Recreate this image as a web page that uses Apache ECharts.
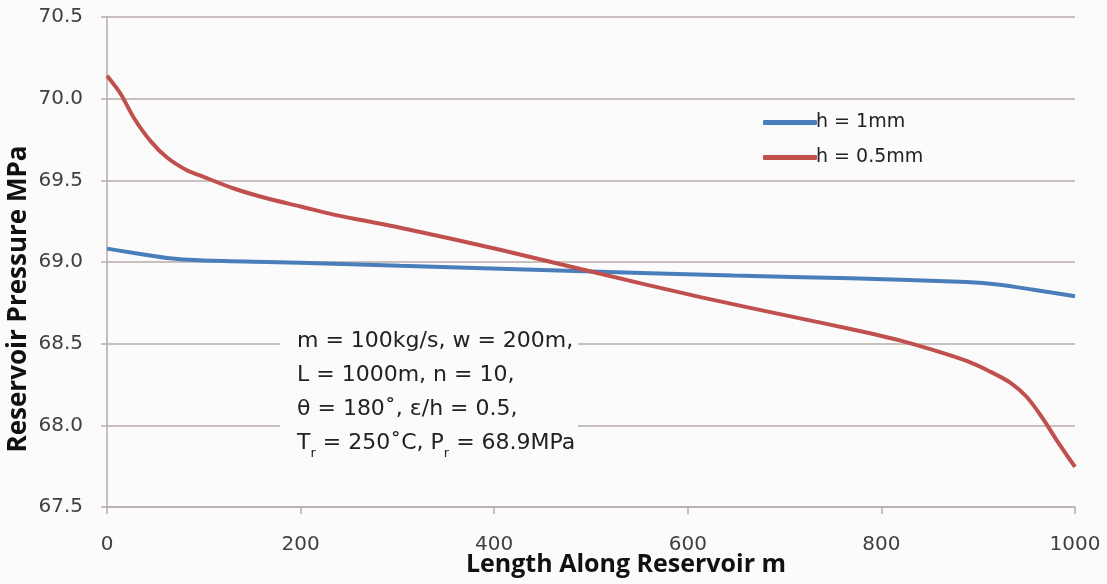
<!DOCTYPE html>
<html>
<head>
<meta charset="utf-8">
<script src="https://cdn.jsdelivr.net/npm/echarts@6/dist/echarts.min.js"></script>
<style>
  html, body { margin: 0; padding: 0; background: #fbfbfb; }
  #chart { width: 1107px; height: 584px; }
</style>
</head>
<body>
<div id="chart"></div>
<script>
// Reservoir pressure along the reservoir length for two fracture apertures
const seriesNames = ['h = 1mm', 'h = 0.5mm'];

const lengthH1 = [0, 28, 62, 96, 165, 234, 303, 475, 647, 768, 888, 922, 957, 1000];
const pressureH1 = [69.082, 69.055, 69.025, 69.01, 69.0, 68.99, 68.977, 68.947, 68.917, 68.9, 68.877, 68.861, 68.83, 68.79];

const lengthH05 = [0, 14, 28, 45, 62, 83, 96, 131, 165, 200, 234, 269, 303, 406, 501, 613, 716, 768, 795, 819, 854, 888, 912, 933, 950, 967, 981, 1000];
const pressureH05 = [70.14, 70.03, 69.88, 69.74, 69.64, 69.56, 69.53, 69.45, 69.39, 69.34, 69.29, 69.25, 69.21, 69.075, 68.94, 68.785, 68.655, 68.59, 68.555, 68.52, 68.46, 68.394, 68.33, 68.262, 68.175, 68.04, 67.91, 67.745];

const xTicks = [0, 200, 400, 600, 800, 1000];
const yTicks = [67.5, 68.0, 68.5, 69.0, 69.5, 70.0, 70.5];

const annotationLines = [
  '{t|m = 100kg/s, w = 200m,}',
  '{t|L = 1000m, n = 10,}',
  '{t|θ = 180˚, ε/h = 0.5,}',
  '{t|T}{s|r}{t| = 250˚C, P}{s|r}{t| = 68.9MPa}'
];

const pair = (xs, ys) => xs.map((x, i) => [x, ys[i]]);

const bg = '#fbfbfb';
const gridColor = '#b8adaa';
const labelColor = '#404040';
const tickFont = '"DejaVu Sans", sans-serif';
const titleFont = '"Open Sans", sans-serif';

const chart = echarts.init(document.getElementById('chart'), null, { renderer: 'canvas' });

chart.setOption({
  backgroundColor: bg,
  animation: false,
  grid: {
    left: 107, right: 32, top: 17, bottom: 77,
    containLabel: false,
    outerBoundsMode: 'none'
  },
  xAxis: {
    type: 'value',
    min: xTicks[0],
    max: xTicks[xTicks.length - 1],
    interval: 200,
    name: 'Length Along Reservoir m',
    nameLocation: 'middle',
    nameGap: 45,
    nameMoveOverlap: false,
    nameTextStyle: {
      fontFamily: titleFont, fontWeight: 'bold', fontSize: 25, color: '#111',
      padding: [0, 0, 0, 70]
    },
    axisLine: { show: true, lineStyle: { color: gridColor, width: 1.5 } },
    axisTick: { show: true, length: 7, lineStyle: { color: gridColor, width: 1.5 } },
    axisLabel: {
      margin: 28,
      fontFamily: tickFont, fontSize: 20, color: labelColor,
      formatter: v => String(v)
    },
    splitLine: { show: false }
  },
  yAxis: {
    type: 'value',
    min: yTicks[0],
    max: yTicks[yTicks.length - 1],
    interval: 0.5,
    axisLine: { show: true, lineStyle: { color: gridColor, width: 1.5 } },
    axisTick: { show: true, inside: false, length: 6, lineStyle: { color: gridColor, width: 1.5 } },
    axisLabel: {
      margin: 24,
      fontFamily: tickFont, fontSize: 20, color: labelColor,
      formatter: v => v.toFixed(1)
    },
    splitLine: { show: true, lineStyle: { color: gridColor, width: 1.5 } }
  },
  legend: {
    orient: 'vertical',
    left: 758,
    top: 108,
    itemWidth: 54,
    itemHeight: 5,
    itemGap: 16,
    icon: 'roundRect',
    textStyle: { fontFamily: tickFont, fontSize: 19, color: '#222', padding: [0, 0, 0, -6] },
    data: seriesNames
  },
  series: [
    {
      name: seriesNames[0],
      type: 'line',
      data: pair(lengthH1, pressureH1),
      smooth: 0.3,
      showSymbol: false,
      lineStyle: { color: '#4a7ebb', width: 4 },
      itemStyle: { color: '#4a7ebb' },
      z: 3
    },
    {
      name: seriesNames[1],
      type: 'line',
      data: pair(lengthH05, pressureH05),
      smooth: 0.3,
      showSymbol: false,
      lineStyle: { color: '#c0504d', width: 4 },
      itemStyle: { color: '#c0504d' },
      z: 4
    }
  ],
  graphic: [
    {
      type: 'text',
      x: 19,
      y: 299,
      rotation: Math.PI / 2,
      z: 10,
      style: {
        text: 'Reservoir Pressure MPa',
        fontFamily: titleFont,
        fontWeight: 'bold',
        fontSize: 26,
        fill: '#111',
        align: 'center',
        verticalAlign: 'middle'
      }
    },
    {
      type: 'rect',
      shape: { x: 280, y: 322, width: 298, height: 142 },
      style: { fill: bg },
      z: 5
    },
    {
      type: 'text',
      x: 297,
      y: 324,
      z: 6,
      style: {
        text: annotationLines.join('\n'),
        fill: '#222',
        rich: {
          t: { fontFamily: tickFont, fontSize: 22, lineHeight: 34, fill: '#222' },
          s: { fontFamily: tickFont, fontSize: 13, lineHeight: 34, fill: '#222', verticalAlign: 'bottom', padding: [14, 0, 0, 0] }
        }
      }
    }
  ]
});
</script>
</body>
</html>
